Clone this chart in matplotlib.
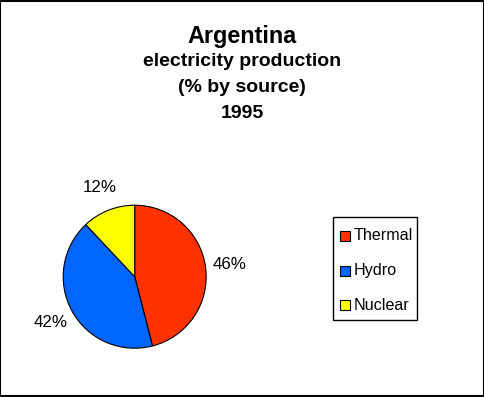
import matplotlib.pyplot as plt
from matplotlib.patches import Rectangle

plt.rcParams["font.family"] = ["Liberation Sans", "DejaVu Sans"]

# --- DADOS ---
fontes = ["Thermal", "Hydro", "Nuclear"]
percentuais = [46, 42, 12]
cores = ["#FF3300", "#0066FF", "#FFFF00"]

W, H = 485, 397
fig = plt.figure(figsize=(W / 100, H / 100), dpi=100)

# borda da figura
fig.patches.append(
    Rectangle((0.001, 0.002), 0.996, 0.996, transform=fig.transFigure,
              fill=False, edgecolor="black", linewidth=1.5)
)

# titulo
fig.text(242 / W, 1 - 37 / H, "Argentina", ha="center", va="center",
         fontsize=16.8, fontweight="bold")
for y, linha in zip([62, 88, 113], ["electricity production", "(% by source)", "1995"]):
    fig.text(242 / W, 1 - y / H, linha, ha="center", va="center",
             fontsize=14, fontweight="bold")

# pizza
cx, cy, r = 134.7, 276.7, 71.5
ax = fig.add_axes([(cx - r) / W, 1 - (cy + r) / H, 2 * r / W, 2 * r / H])
wedges, _, autotexts = ax.pie(
    percentuais,
    colors=cores,
    startangle=90,
    counterclock=False,
    autopct="%d%%",
    pctdistance=1.34,
    wedgeprops={"edgecolor": "black", "linewidth": 0.8},
    textprops={"fontsize": 12.2},
)
ax.set_xlim(-1, 1)
ax.set_ylim(-1, 1)
ax.set_aspect("equal")

# legenda (desenhada a mao, caixa estilo Excel)
fig.patches.append(
    Rectangle((333.3 / W, 1 - 320 / H), (417 - 333.3) / W, (320 - 217.3) / H,
              transform=fig.transFigure, facecolor="white",
              edgecolor="black", linewidth=1)
)
for i, (nome, cor) in enumerate(zip(fontes, cores)):
    yc = 236 + i * 34.5
    fig.patches.append(
        Rectangle((340 / W, 1 - (yc + 5) / H), 10 / W, 10 / H,
                  transform=fig.transFigure, facecolor=cor,
                  edgecolor="black", linewidth=0.8)
    )
    fig.text(354 / W, 1 - yc / H, nome, ha="left", va="center",
             fontsize=11.6)

fig.savefig("out.png", dpi=100)
